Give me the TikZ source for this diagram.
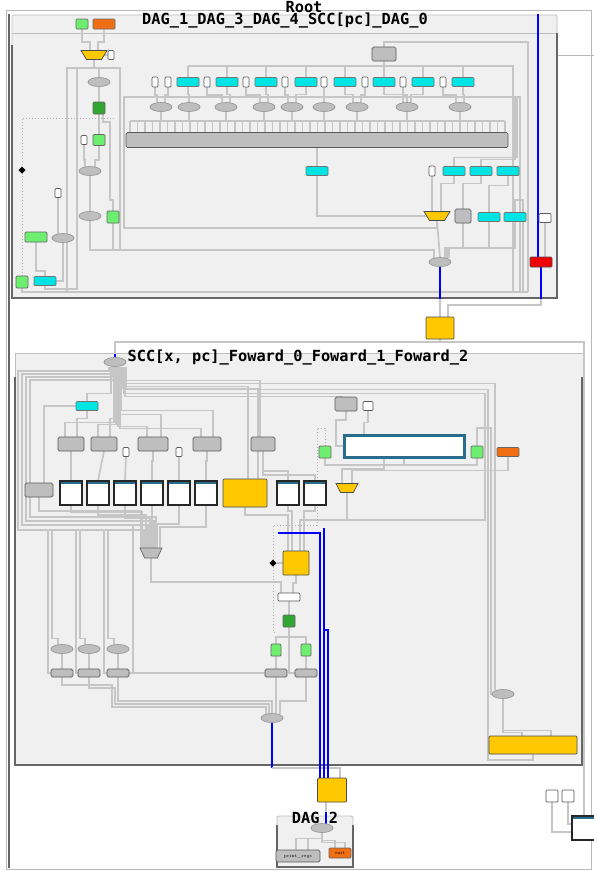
\documentclass[tikz,border=0pt]{standalone}
\usepackage{fontspec}
\setmonofont{DejaVu Sans Mono}
\usetikzlibrary{shapes.geometric}
\definecolor{clf}{RGB}{240,240,240}
\definecolor{wgr}{RGB}{198,198,198}
\definecolor{gfill}{RGB}{190,190,190}
\definecolor{cyf}{RGB}{0,228,228}
\definecolor{lgf}{RGB}{110,238,110}
\definecolor{dgf}{RGB}{50,165,50}
\definecolor{ogf}{RGB}{240,110,20}
\definecolor{ylf}{RGB}{255,200,0}
\definecolor{rdf}{RGB}{240,0,0}
\definecolor{tealb}{RGB}{40,110,140}
\pgfdeclarelayer{bg}\pgfdeclarelayer{wl}\pgfsetlayers{bg,wl,main}
\tikzset{
 nd/.style={inner sep=0pt, outer sep=0pt, line width=0.7pt},
 gb/.style 2 args={nd, rectangle, draw=black!65, fill=gfill, rounded corners=1.5pt, minimum width=#1, minimum height=#2},
 cy/.style={nd, rectangle, draw=black!55, fill=cyf, rounded corners=1pt, minimum width=22pt, minimum height=9pt},
 lg/.style 2 args={nd, rectangle, draw=black!60, fill=lgf, rounded corners=1pt, minimum width=#1, minimum height=#2},
 dg/.style={nd, rectangle, draw=black!60, fill=dgf, rounded corners=1pt, minimum width=12pt, minimum height=12pt},
 og/.style 2 args={nd, rectangle, draw=black!60, fill=ogf, rounded corners=1pt, minimum width=#1, minimum height=#2},
 yl/.style 2 args={nd, rectangle, draw=black!70, fill=ylf, rounded corners=1pt, minimum width=#1, minimum height=#2},
 ytr/.style 2 args={nd, inner sep=1pt, trapezium, trapezium angle=70, shape border rotate=180, trapezium stretches=true, draw=black!70, fill=ylf, minimum width=#1, minimum height=#2},
 gtr/.style 2 args={nd, inner sep=1pt, trapezium, trapezium angle=70, shape border rotate=180, trapezium stretches=true, draw=black!60, fill=gfill, minimum width=#1, minimum height=#2},
 el/.style={nd, inner sep=1pt, ellipse, draw=black!40, fill=gfill, minimum width=22pt, minimum height=9pt},
 wp/.style 2 args={nd, rectangle, draw=black!65, fill=white, rounded corners=1pt, minimum width=#1, minimum height=#2},
 rd/.style={nd, rectangle, draw=black!70, fill=rdf, rounded corners=1pt, minimum width=22pt, minimum height=10pt},
 memb/.style 2 args={nd, rectangle, draw=black!85, line width=1.3pt, fill=white, minimum width=#1, minimum height=#2, path picture={\fill[tealb] (path picture bounding box.north west) rectangle ([yshift=-2.5pt]path picture bounding box.north east);}},
 blk/.style={nd, inner sep=1pt, diamond, fill=black, minimum size=7pt},
 wire/.style={draw=wgr, line width=1.7pt},
 wthin/.style={draw=wgr, line width=1.1pt},
 bwire/.style={draw=blue, line width=1.6pt},
 dotl/.style={draw=gray!60, line width=1pt, dotted},
 ttl/.style={font=\ttfamily\bfseries\fontsize{15.3}{15.3}\selectfont, inner sep=0pt},
 tinytxt/.style={font=\fontsize{4.5}{5}\selectfont},
}
\begin{document}
\begin{tikzpicture}[x=1pt,y=-1pt]
\useasboundingbox (0,0) rectangle (594,871);
\begin{pgfonlayer}{bg}
\fill[white] (0,0) rectangle (594,871);
\draw[gray!55, line width=0.8pt] (6,10) rectangle (591,869);
\draw[black!60, line width=1.2pt] (9,14) -- (9,868);
\draw[gray!55, line width=0.8pt] (557,55) -- (594,55);
\filldraw[fill=clf, draw=gray!50, line width=0.8pt, rounded corners=2pt] (12,15) rectangle (557,298);
\draw[gray!50, line width=0.8pt] (12,33) -- (557,33);
\draw[black!60, line width=1.3pt] (12,45) -- (12,298) -- (557,298) -- (557,33);
\filldraw[fill=clf, draw=gray!50, line width=0.8pt] (15,353) rectangle (583,765);
\draw[black!60, line width=1.3pt] (15,377) -- (15,765) -- (582,765) -- (582,377);
\filldraw[fill=clf, draw=gray!50, line width=0.8pt, rounded corners=2pt] (277,816) rectangle (353,867);
\draw[black!60, line width=1.2pt] (277,825) -- (277,867) -- (353,867) -- (353,825);
\end{pgfonlayer}

% ---------------- titles
\node[ttl] (tRoot) at (304,7) {Root};
\node[ttl] (tD1) at (285,20) {DAG\_1\_DAG\_3\_DAG\_4\_SCC[pc]\_DAG\_0};
\node[ttl] (tS) at (298,357) {SCC[x, pc]\_Foward\_0\_Foward\_1\_Foward\_2};
\node[ttl] (tD2) at (315,820) {DAG\_2};

% ---------------- DAG_1 nodes
\node[lg={12pt}{10pt}] (g1) at (82,24) {};
\node[og={22pt}{10pt}] (o1) at (104,24) {};
\node[ytr={26pt}{9pt}] (t1) at (94,55) {};
\node[wp={6pt}{9pt}] (w1) at (111,55) {};
\node[el] (e1) at (99,82) {};
\node[dg] (dg1) at (99,108) {};
\node[wp={6pt}{9pt}] (w2) at (84,140) {};
\node[lg={12pt}{11pt}] (g2) at (99,140) {};
\node[el] (e2) at (90,171) {};
\node[el] (e3) at (90,216) {};
\node[lg={12pt}{12pt}] (g3) at (113,217) {};
\node[wp={6pt}{9pt}] (w3) at (58,193) {};
\node[el] (e4) at (63,238) {};
\node[lg={22pt}{10pt}] (g4) at (36,237) {};
\node[lg={12pt}{12pt}] (g5) at (22,282) {};
\node[cy] (c0) at (45,281) {};
\node[blk] (dia1) at (22,170) {};
\node[wp={6pt}{10pt}] (wa) at (155,82) {};
\node[wp={6pt}{10pt}] (wb) at (168,82) {};
\foreach \x [count=\i] in {188,227,266,306,345,384,423,463} \node[cy] (c\i) at (\x,82) {};
\foreach \x [count=\i] in {207,246,285,324,365,403,443} \node[wp={6pt}{10pt}] (wc\i) at (\x,82) {};
\foreach \x [count=\i] in {161,189,226,264,292,324,357,407,460} \node[el] (ea\i) at (\x,107) {};
\node[gb={24pt}{14pt}] (gb1) at (384,54) {};
\node[gb={382pt}{15pt}] (bar) at (317,140) {};
\node[cy] (c9) at (317,171) {};
\node[wp={6pt}{10pt}] (w4) at (432,171) {};
\node[cy] (c10) at (454,171) {};
\node[cy] (c11) at (481,171) {};
\node[cy] (c12) at (508,171) {};
\node[ytr={26pt}{9pt}] (t2) at (437,216) {};
\node[gb={16pt}{14pt}] (gsq) at (463,216) {};
\node[cy] (c13) at (489,217) {};
\node[cy] (c14) at (515,217) {};
\node[el] (e5) at (440,262) {};
\node[rd] (r1) at (541,262) {};
\node[wp={12pt}{9pt}] (w5) at (545,218) {};
\node[yl={28pt}{22pt}] (yc1) at (440,328) {};

% ---------------- SCC nodes
\node[el] (eS) at (115,362) {};
\node[cy] (cS1) at (87,406) {};
\node[gb={26pt}{14pt}] (gS1) at (71,444) {};
\node[gb={26pt}{14pt}] (gS2) at (104,444) {};
\node[gb={30pt}{14pt}] (gS3) at (153,444) {};
\node[gb={28pt}{14pt}] (gS4) at (207,444) {};
\node[gb={24pt}{14pt}] (gS5) at (263,444) {};
\node[wp={6pt}{9pt}] (wS1) at (126,452) {};
\node[wp={6pt}{9pt}] (wS2) at (179,452) {};
\node[gb={28pt}{14pt}] (gS6) at (39,490) {};
\foreach \x [count=\i] in {71,98,125,152,179,206} \node[memb={22pt}{24pt}] (m\i) at (\x,493) {};
\node[yl={44pt}{28pt}] (yS1) at (245,493) {};
\node[memb={22pt}{24pt}] (m7) at (288,493) {};
\node[memb={22pt}{24pt}] (m8) at (315,493) {};
\node[ytr={22pt}{9pt}] (tS1) at (347,488) {};
\node[gb={22pt}{14pt}] (gS7) at (346,404) {};
\node[wp={10pt}{9pt}] (wS3) at (368,406) {};
\node[nd, rectangle, draw=tealb, line width=3pt, fill=white, minimum width=120pt, minimum height=22pt] (bigW) at (404,446) {};
\node[lg={12pt}{12pt}] (gS8) at (325,452) {};
\node[lg={12pt}{12pt}] (gS9) at (477,452) {};
\node[og={22pt}{9pt}] (oS1) at (508,452) {};
\node[gtr={22pt}{10pt}] (tS2) at (151,553) {};
\node[blk] (diaS) at (273,563) {};
\node[yl={26pt}{24pt}] (yS2) at (296,563) {};
\node[wp={22pt}{8pt}] (wS4) at (289,597) {};
\node[dg] (dgS) at (289,621) {};
\node[lg={10pt}{12pt}] (gS10) at (276,650) {};
\node[lg={10pt}{12pt}] (gS11) at (306,650) {};
\node[gb={22pt}{8pt}] (bS1) at (276,673) {};
\node[gb={22pt}{8pt}] (bS2) at (306,673) {};
\node[el] (eS2) at (272,718) {};
\foreach \x [count=\i] in {62,89,118} {
  \node[el] (eL\i) at (\x,649) {};
  \node[gb={22pt}{8pt}] (bL\i) at (\x,673) {};
}
\node[el] (eS3) at (503,694) {};
\node[yl={88pt}{18pt}] (yS3) at (533,745) {};
\node[yl={29pt}{24pt}] (yc2) at (332,790) {};
\node[el] (eD) at (322,828) {};
\node[gb={44pt}{12pt}, tinytxt] (pr) at (298,856) {print\_regs};
\node[og={22pt}{10pt}, tinytxt] (ex) at (340,853) {exit};
\node[wp={12pt}{12pt}] (wr1) at (552,796) {};
\node[wp={12pt}{12pt}] (wr2) at (568,796) {};
\node[memb={24pt}{24pt}] (mb) at (584,828) {};

% ---------------- wires
\begin{pgfonlayer}{wl}
\draw[wire] (g1.south) |- (90,42) -- ([xshift=-4pt]t1.north);
\draw[wire] (o1.south) |- (98,42) -- ([xshift=4pt]t1.north);
\draw[wire] (w1.west) -- (t1.east);
\draw[wire] (t1.south) |- (99,68) -- (e1.north);
\draw[wire] (t1.south) |- (67,68) -- (67,292) -| (g5.south);
\draw[wire] (t1.south) |- (77,68) -- (77,289) -| (c0.south);
\draw[wire] (t1.south) |- (120,68) -- (120,250);
\draw[wire] (e1.south) -- (dg1.north);
\draw[wire] (dg1.south) -- (g2.north);
\draw[wire] ([xshift=4pt]dg1.south) |- (110,122) -- (110,200) -| (g3.north);
\draw[wire] (g2.south) |- (95,160) -- ([xshift=5pt]e2.north);
\draw[wire] (w2.south) |- (85,160) -- ([xshift=-5pt]e2.north);
\draw[wire] (e2.south) -- (e3.north);
\draw[wire, line width=2.8pt] (e3.south) -- (90,250) -| ([xshift=-6pt]e5.north);
\draw[wire] (g3.south) -- (113,250);
\draw[wire] (w3.south) -- ([xshift=-5pt]e4.north);
\draw[wire] (e4.south) |- (c0.east);
\draw[wire] (g4.south) |- (45,271) -- (c0.north);
\draw[dotl] (g5.north) -- (22,118) -- (115,118);
\draw[wire] (g5.south) |- (528,292);
\coordinate (hl) at (188,66);
\draw[wire] (gb1.south) |- (hl);
\draw[wire] (gb1.south) |- (513,66) -- (513,292);
\draw[wire] (gb1.north) -- (384,42) -- (528,42) -- (528,292);
\foreach \i in {1,...,8} \draw[wire] (c\i.north) -- ++(0,-11.5);
\draw[wire] (wa.south) -- ++(0,8) -| ([xshift=-4pt]ea1.north);
\draw[wire] (wb.south) -- ++(0,8) -| ([xshift=4pt]ea1.north);
\draw[wire] (c1.south) -- ++(0,8) -| (ea2.north);
\draw[wire] (wc1.south) -- ++(0,8) -| ([xshift=-4pt]ea3.north);
\draw[wire] (c2.south) -- ++(0,8) -| ([xshift=4pt]ea3.north);
\draw[wire] (wc2.south) -- ++(0,8) -| ([xshift=-4pt]ea4.north);
\draw[wire] (c3.south) -- ++(0,8) -| ([xshift=4pt]ea4.north);
\draw[wire] (wc3.south) -- ++(0,8) -| ([xshift=-4pt]ea5.north);
\draw[wire] (c4.south) -- ++(0,8) -| ([xshift=4pt]ea5.north);
\draw[wire] (wc4.south) -- ++(0,8) -| (ea6.north);
\draw[wire] (c5.south) -- ++(0,8) -| ([xshift=-4pt]ea7.north);
\draw[wire] (wc5.south) -- ++(0,8) -| ([xshift=4pt]ea7.north);
\draw[wire] (c6.south) -- ++(0,8) -| ([xshift=-4pt]ea8.north);
\draw[wire] (wc6.south) -- ++(0,8) -| (ea8.north);
\draw[wire] (c7.south) -- ++(0,8) -| ([xshift=4pt]ea8.north);
\draw[wire] (wc7.south) -- ++(0,8) -| ([xshift=-4pt]ea9.north);
\draw[wire] (c8.south) -- ++(0,8) -| ([xshift=4pt]ea9.north);
\foreach \i in {1,...,9} \draw[wire] (ea\i.south) -- ++(0,10);
\draw[wthin] (130,121) -- (505,121);
\foreach \x in {130,137.5,...,505} \draw[wthin] (\x,121) -- (\x,132.5);
\draw[wire] (t2.south) |- (124,228) -- (124,97) -- (520,97) -- (520,292);
\draw[wire] (bar.south) -- (c9.north);
\draw[wire] (c9.south) |- (t2.west);
\draw[wire] (w4.south) -- ([xshift=-5pt]t2.north);
\draw[wire] (c10.south) -- ++(0,8) -| ([xshift=4pt]t2.north);
\draw[wire] (c11.south) -- ++(0,8) -| (gsq.north);
\draw[wire] (c12.south) -- ++(0,10) -| (c13.north);
\draw[wire] (c10.north) -- ++(0,-9) -| (517,97);
\draw[wire] (c11.north) -- ++(0,-7) -| (515,97);
\draw[wire] (c14.north) |- (523,200) -- (523,292);
\draw[wire] (t2.south) -- (e5.north);
\draw[wire] (gsq.south) -- (463,248) -| ([xshift=5pt]e5.north);
\draw[wire] (c13.south) -- (489,248) -| ([xshift=7pt]e5.north);
\draw[wire] (c14.south) -- (515,248) -| ([xshift=9pt]e5.north);
\coordinate (rin) at (538,14);
\coordinate (j5) at (440,299);
\coordinate (jr) at (541,299);
\draw[bwire] (rin) -- ([xshift=-3pt]r1.north);
\draw[wire] (w5.south) -- ([xshift=4pt]r1.north);
\draw[bwire] (e5.south) -- (j5);
\draw[wire] (j5) -- (yc1.north);
\draw[bwire] (r1.south) -- (jr);
\draw[wire] (jr) |- (448,305) -- ([xshift=8pt]yc1.north);
\coordinate (jS) at (115,354);
\draw[wire] (yc1.south) -- ++(0,3) -| (jS);
\draw[bwire] (jS) -- (eS.north);
\draw[wire] (yc1.south) -- ++(0,3) -| (mb.north);
\draw[wire] ([xshift=-6pt]eS.south) |- (18,371) -- (18,530) -| ([xshift=-7pt]tS2.north);
\draw[wire] ([xshift=-4pt]eS.south) |- (22,374) -- (22,525) -| ([xshift=-3pt]tS2.north);
\draw[wire] ([xshift=-2pt]eS.south) |- (26,377) -- (26,521) -| ([xshift=1pt]tS2.north);
\draw[wire] ([xshift=-1pt]eS.south) |- (30,380) -- (30,517) -| ([xshift=5pt]tS2.north);
\draw[wire] ([xshift=-4pt]eS.south) -- ++(0,27) -| (cS1.north);
\draw[wire] (cS1.south) -- ++(0,8) -| ([xshift=6pt]gS1.north);
\draw[wire] (cS1.west) -| ([xshift=5pt]gS6.north);
\draw[wire] ([xshift=-1pt]eS.south) -- ++(0,56) -| ([xshift=-6pt]gS1.north);
\draw[wire] ([xshift=1pt]eS.south) -- ++(0,58) -| ([xshift=-6pt]gS2.north);
\draw[wire] ([xshift=2pt]eS.south) -- ++(0,52) -| ([xshift=6pt]gS2.north);
\draw[wire] ([xshift=3pt]eS.south) -- ++(0,60) -| ([xshift=-6pt]gS3.north);
\draw[wire] ([xshift=4pt]eS.south) -- ++(0,48) -| ([xshift=8pt]gS3.north);
\draw[wire] ([xshift=5pt]eS.south) -- ++(0,62) -| ([xshift=-6pt]gS4.north);
\draw[wire] ([xshift=6pt]eS.south) -- ++(0,44) -| ([xshift=6pt]gS4.north);
\draw[wire] ([xshift=5pt]eS.south) -- ++(0,20) -| ([xshift=3pt]yS1.north);
\draw[wire] ([xshift=7pt]eS.south) -- ++(0,22) -| ([xshift=13pt]yS1.north);
\draw[wire] ([xshift=8pt]eS.south) -- ++(0,14) -| ([xshift=-3pt]gS5.north);
\draw[wire] ([xshift=8pt]eS.south) -- ++(0,17) -| ([xshift=-8pt]eS3.north);
\draw[wire] ([xshift=9pt]eS.south) -- ++(0,27) -| (485,520) -| ([xshift=4pt]yS2.north);
\draw[wire] ([xshift=10pt]eS.south) -- ++(0,30) -| ([xshift=-4pt]gS7.north);
\draw[wire] ([xshift=11pt]eS.south) -- ++(0,23) -| (488,760) -| (yS3.south);
\draw[wire] (gS1.south) -- (m1.north);
\draw[wire] (gS2.south) -- (m2.north);
\draw[wire] (wS1.south) -- (m3.north);
\draw[wire] (gS3.south) -- ++(0,10) -| (m4.north);
\draw[wire] (wS2.south) -- (m5.north);
\draw[wire] (gS4.south) -- ++(0,10) -| (m6.north);
\draw[wire] (gS5.south) -- ++(0,20) -| (m7.north);
\draw[wire] (gS5.south) -- ++(0,24) -| (m8.north);
\draw[wire] (m1.south) -- ++(0,7) -| ([xshift=-9pt]tS2.north);
\draw[wire] (m2.south) -- ++(0,10) -| ([xshift=-5pt]tS2.north);
\draw[wire] (m3.south) -- ++(0,13) -| ([xshift=-1pt]tS2.north);
\draw[wire] (m4.south) -- ++(0,16) -| ([xshift=3pt]tS2.north);
\draw[wire] (m5.south) -- ++(0,19) -| ([xshift=6pt]tS2.north);
\draw[wire] (m6.south) -- ++(0,22) -| ([xshift=9pt]tS2.north);
\draw[wire] (gS6.south) -- ++(0,14) -| ([xshift=-10pt]tS2.north);
\draw[wire] (yS1.south) -- ++(0,8) -| ([xshift=-8pt]yS2.north);
\draw[wire] (m7.south) -- ++(0,6) -| ([xshift=-4pt]yS2.north);
\draw[wire] (m8.south) -- ++(0,6) -| ([xshift=8pt]yS2.north);
\draw[wire] (tS1.south) -- ++(0,27);
\draw[wire] (gS7.south) |- (336,420) |- (bigW.west);
\draw[wire] (wS3.south) -- ++(0,12) -| ([xshift=-40pt]bigW.north);
\draw[wire] (bigW.south) -- ++(0,8) -| (gS9.south);
\draw[wire] (bigW.south) -- ++(0,8) -| (gS8.south);
\draw[wire] ([xshift=-20pt]bigW.south) -- ++(0,12) -| ([xshift=-5pt]tS1.north);
\draw[wire] (oS1.south) -- ++(0,14) -| ([xshift=5pt]tS1.north);
\draw[wire] (gS9.north) |- (491,428) -- (491,694) -- (eS3.west);
\draw[wire] (eS3.south) -- ++(0,32) -| ([xshift=18pt]yS3.north);
\draw[wire] (eS3.south) -- ++(0,34) -| ([xshift=-11pt]yS3.north);
\coordinate (dend) at (275,632);
\draw[dotl] (gS8.north) |- (317,428) -- (317,525) -| (diaS.north);
\draw[dotl] (diaS.south) |- (dend);
\draw[wthin] (diaS.east) -- (yS2.west);
\draw[wire] (yS2.south) -- ++(0,8) -| ([xshift=4pt]wS4.north);
\draw[wire] (tS2.south) -- ++(0,24) -| ([xshift=-8pt]wS4.north);
\draw[wire] (wS4.south) -- (dgS.north);
\draw[wire] (dgS.south) -- ++(0,10) -| (gS10.north);
\draw[wire] (dgS.south) -- ++(0,10) -| (gS11.north);
\draw[wire] (dgS.south) |- (bS2.west);
\draw[wire] (gS10.south) -- (bS1.north);
\draw[wire] (gS11.south) -- (bS2.north);
\draw[wire] (bS1.south) -- ([xshift=4pt]eS2.north);
\draw[wire] (bS2.south) -- ++(0,24) -| ([xshift=8pt]eS2.north);
\draw[wire] (bL3.east) -- (bS1.west);
\draw[wire] (bL3.east) -| (133,525);
\foreach \i in {1,2,3} \draw[wire] (eL\i.south) -- (bL\i.north);
\draw[wire] (bL1.west) -| (48,530);
\draw[wire] ([xshift=-4pt]eL1.north) -- ++(0,-6) -| (52,530);
\draw[wire] (bL2.west) -| (76,530);
\draw[wire] ([xshift=-4pt]eL2.north) -- ++(0,-6) -| (80,530);
\draw[wire] (bL3.west) -| (104,530);
\draw[wire] ([xshift=-4pt]eL3.north) -- ++(0,-6) -| (108,530);
\draw[wire] (bL1.south) |- (112,685) -- (112,707) -| ([xshift=-6pt]eS2.north);
\draw[wire] (bL2.south) |- (115,688) -- (115,704) -| ([xshift=-3pt]eS2.north);
\draw[wire] (bL3.south) -- ++(0,24) -| (eS2.north);
\coordinate (jE) at (272,768);
\coordinate (bl0) at (278,533);
\coordinate (bl1) at (324,528);
\coordinate (bl2) at (324,630);
\draw[bwire] (eS2.south) -- (jE);
\draw[wire] (jE) -| ([xshift=8pt]yc2.north);
\draw[bwire] (bl0) -| ([xshift=-12pt]yc2.north);
\draw[bwire] (bl1) -- ([xshift=-8pt]yc2.north);
\draw[bwire] (bl2) -| ([xshift=-4pt]yc2.north);
\coordinate (jD) at (326,812);
\draw[wire] ([xshift=-6pt]yc2.south) -- (jD);
\draw[bwire] (jD) -- ([xshift=4pt]eD.north);
\draw[wire] (eD.south) -- ++(0,6) -| ([xshift=-2pt]pr.north);
\draw[wire] (eD.south) -- ++(0,6) -| ([xshift=10pt]pr.north);
\draw[wire] (eD.south) -- ++(0,8) -| ([xshift=-5pt]ex.north);
\draw[wire] (eD.south) -- ++(0,10) -| ([xshift=5pt]ex.north);
\draw[wire] (wr1.south) |- ([yshift=-4pt]mb.west);
\draw[wire] (wr2.south) |- ([yshift=4pt]mb.west);
\end{pgfonlayer}
\end{tikzpicture}
\end{document}
